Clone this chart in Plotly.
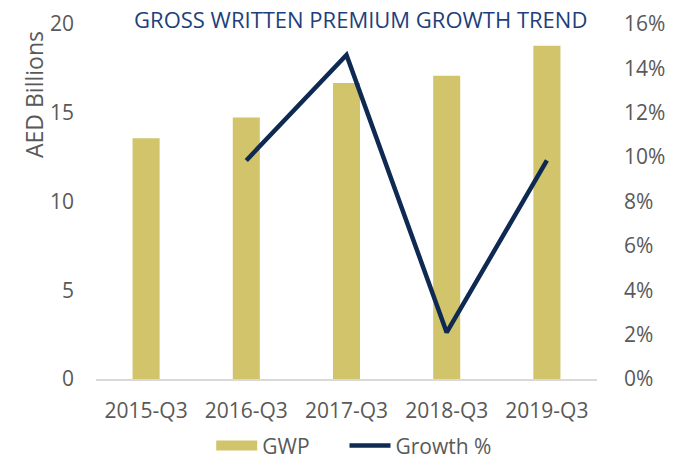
import plotly.graph_objects as go

categories = ["2015-Q3", "2016-Q3", "2017-Q3", "2018-Q3", "2019-Q3"]
gwp = [13.57, 14.73, 16.68, 17.09, 18.78]
growth = [None, 0.0985, 0.146, 0.021, 0.0985]

GOLD = "#D1C46B"
NAVY = "#0E2A52"
GRAY = "#595959"
FONT = "'Open Sans', sans-serif"

fig = go.Figure()
fig.add_trace(go.Bar(x=categories, y=gwp, name="GWP", marker_color=GOLD,
                     marker_line_width=0, showlegend=False))
# legend stand-in for the bar series (wide rectangle swatch)
fig.add_trace(go.Scatter(x=[None], y=[None], name="GWP", mode="lines",
                         line=dict(color=GOLD, width=13), legend="legend"))
fig.add_trace(go.Scatter(x=categories, y=growth, name="Growth %", yaxis="y2",
                         mode="lines", line=dict(color=NAVY, width=4.5),
                         connectgaps=False, legend="legend2"))

leg_common = dict(orientation="h", xanchor="left", yanchor="middle", y=-0.188,
                  font=dict(size=21, color=GRAY), itemwidth=41,
                  bgcolor="rgba(0,0,0,0)")

fig.update_layout(
    width=681, height=459,
    margin=dict(l=96, r=84, t=24, b=80, autoexpand=False),
    plot_bgcolor="white", paper_bgcolor="white",
    font=dict(family=FONT, size=21, color=GRAY),
    title=dict(text="GROSS WRITTEN PREMIUM GROWTH TREND", xref="paper", x=0.076,
               xanchor="left", y=0.956, yanchor="middle",
               font=dict(size=22, color="#1E3F7B", family=FONT)),
    bargap=0.73,
    xaxis=dict(showgrid=False, showline=True, linecolor="#D9D9D9", linewidth=2,
               ticks="", ticklabelstandoff=12, tickfont=dict(size=21, color=GRAY)),
    yaxis=dict(range=[0, 20], dtick=5, showgrid=False, zeroline=False, ticks="",
               ticklabelstandoff=21, tickfont=dict(size=21, color=GRAY)),
    yaxis2=dict(range=[0, 0.16], dtick=0.02, tickformat=".0%", overlaying="y", side="right",
                showgrid=False, zeroline=False, ticks="", ticklabelstandoff=26,
                tickfont=dict(size=21, color=GRAY)),
    legend=dict(x=0.230, **leg_common),
    legend2=dict(x=0.496, **leg_common),
    annotations=[dict(text="AED Billions", textangle=-90, xref="paper", yref="paper",
                      x=0, y=0.986, xanchor="center", yanchor="top", xshift=-61.5,
                      showarrow=False, font=dict(size=23, color=GRAY, family=FONT))],
)
fig.write_html("out.html", config={"displayModeBar": False},
               post_script="document.body.style.margin='0';document.body.style.overflow='hidden';")
